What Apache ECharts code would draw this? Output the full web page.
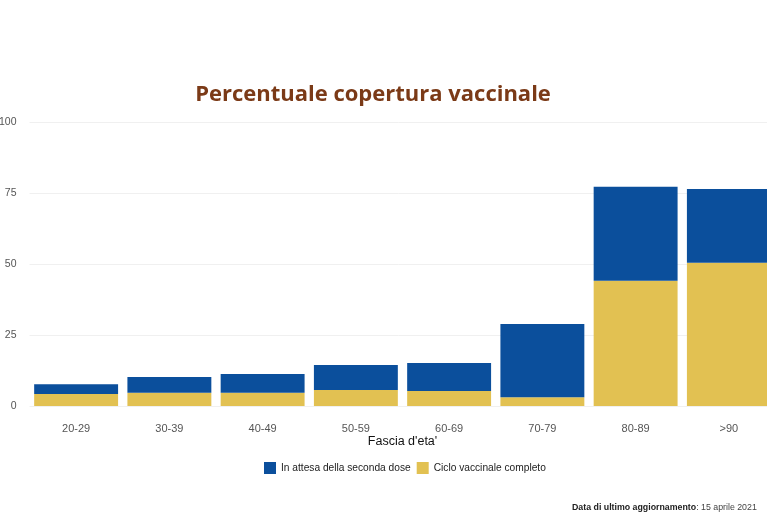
<!DOCTYPE html>
<html>
<head>
<meta charset="utf-8">
<script src="https://cdn.jsdelivr.net/npm/echarts@6/dist/echarts.min.js"></script>
<style>
  html, body { margin: 0; padding: 0; background: #fff; }
  #chart { width: 767px; height: 528px; }
</style>
</head>
<body>
<div id="chart"></div>
<script>
// fasce d'eta' e percentuali
const ageBands = ['20-29', '30-39', '40-49', '50-59', '60-69', '70-79', '80-89', '>90'];
const waitingSecond = [3.5, 5.5, 6.6, 8.8, 9.8, 25.8, 33.1, 26.0];   // In attesa della seconda dose
const completed = [4.2, 4.7, 4.7, 5.6, 5.3, 3.1, 44.1, 50.4];        // Ciclo vaccinale completo
const yTicks = [0, 25, 50, 75, 100];

const chart = echarts.init(document.getElementById('chart'), null, { renderer: 'canvas' });

const option = {
  backgroundColor: '#ffffff',
  animation: false,
  title: {
    text: 'Percentuale copertura vaccinale',
    left: 368,
    top: 79,
    textAlign: 'center',
    textStyle: { color: '#7b3a17', fontSize: 22, fontWeight: 'bold', fontFamily: 'Open Sans' }
  },
  legend: {
    top: 457,
    left: 259,
    itemWidth: 12,
    itemHeight: 12,
    itemGap: 6,
    icon: 'rect',
    textStyle: { color: '#222', fontSize: 10.2, fontFamily: 'Liberation Sans' },
    data: ['In attesa della seconda dose', 'Ciclo vaccinale completo']
  },
  grid: { left: 29.5, top: 122, width: 746, height: 284, containLabel: false, outerBoundsMode: 'none' },
  xAxis: {
    type: 'category',
    data: ageBands,
    name: "Fascia d'eta'",
    nameLocation: 'middle',
    nameGap: 29,
    nameMoveOverlap: false,
    nameTextStyle: { color: '#111', fontSize: 12.5, fontFamily: 'Liberation Sans' },
    axisLine: { show: false },
    axisTick: { show: false },
    axisLabel: { color: '#555', fontSize: 11, margin: 17, fontFamily: 'Liberation Sans' },
    splitLine: { show: false }
  },
  yAxis: {
    type: 'value',
    min: yTicks[0],
    max: yTicks[yTicks.length - 1],
    interval: 25,
    axisLine: { show: false },
    axisTick: { show: false },
    axisLabel: { color: '#555', fontSize: 10.5, margin: 13, fontFamily: 'Liberation Sans' },
    splitLine: { lineStyle: { color: '#f0f0f0', width: 1 } }
  },
  series: [
    {
      name: 'Ciclo vaccinale completo',
      type: 'bar',
      stack: 'tot',
      barWidth: '90%',
      itemStyle: { color: '#e2c152' },
      data: completed
    },
    {
      name: 'In attesa della seconda dose',
      type: 'bar',
      stack: 'tot',
      barWidth: '90%',
      itemStyle: { color: '#0b4f9c' },
      data: waitingSecond
    }
  ],
  graphic: [{
    type: 'text',
    left: 572,
    top: 503,
    style: {
      text: '{b|Data di ultimo aggiornamento}: 15 aprile 2021',
      fontSize: 8.8,
      fill: '#444',
      fontFamily: 'Liberation Sans',
      rich: { b: { fontWeight: 'bold', fill: '#222', fontSize: 8.8, fontFamily: 'Liberation Sans' } }
    }
  }]
};

chart.setOption(option);
</script>
</body>
</html>
